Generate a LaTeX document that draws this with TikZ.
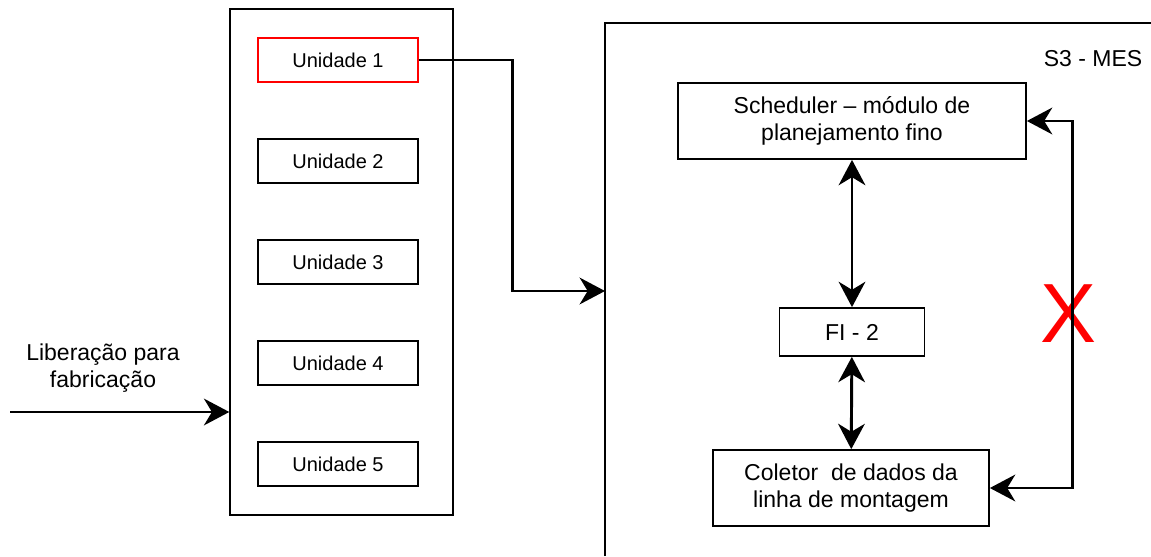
\documentclass[tikz,border=0pt]{standalone}
\usepackage{fontspec}
\setmainfont{Liberation Sans}
\usetikzlibrary{arrows.meta,positioning}

\begin{document}
\begin{tikzpicture}[
  x=0.75pt, y=-0.75pt,
  frame/.style={rectangle, draw, line width=1.3pt, inner sep=0pt},
  unit/.style={rectangle, draw, line width=0.8pt, minimum width=120pt, minimum height=33pt, inner sep=0pt, font=\fontsize{15}{18}\selectfont},
  block/.style={rectangle, draw, line width=1.3pt, align=center, inner sep=0pt, font=\fontsize{17.25}{20.25}\selectfont},
  tip/.tip={Stealth[length=19pt, width=20pt, inset=6pt]},
  rel/.style={-tip, line width=2.2pt},
  both/.style={tip-tip, line width=2.2pt}
]
\useasboundingbox (0,0) rectangle (1151,556);

% left column with the units
\node[frame, minimum width=167pt, minimum height=379.5pt] (plant) at (341.5,262) {};
\node[unit, draw=red] (u1) at (338,60) {Unidade 1};
\node[unit] (u2) at (338,161) {Unidade 2};
\node[unit] (u3) at (338,262) {Unidade 3};
\node[unit] (u4) at (338,363) {Unidade 4};
\node[unit] (u5) at (338,464) {Unidade 5};

\node[align=center, font=\fontsize{17.25}{20.25}\selectfont] (release) at (103,368) {Liberação para\\fabricação};
\coordinate (start) at (10,412);

% MES system
\draw[line width=1.3pt] (605,556) |- (1151,23);
\coordinate (mes) at (605,291);
\node[font=\fontsize{17.25}{20.25}\selectfont] (mestitle) at (1093,59) {S3 - MES};
\node[block, minimum width=261pt, minimum height=57pt] (sched) at (852,121) {Scheduler -- módulo de\\planejamento fino};
\node[block, minimum width=108.75pt, minimum height=36pt] (fi) at (852,332) {FI - 2};
\node[block, minimum width=207pt, minimum height=57pt] (col) at (851,488) {Coletor \ de dados da\\linha de montagem};
\node[text=red, inner sep=0pt, font=\fontsize{63}{63}\selectfont] (cross) at (1068.5,313.5) {X};

\draw[rel] (start) -- (start -| plant.west);
\draw[rel] (u1.east) -- ++(94,0) |- (mes);
\draw[both] (sched) -- (fi);
\draw[both] (fi) -- (col);
\draw[both] (sched.east) -- ++(46,0) |- (col.east);
\end{tikzpicture}
\end{document}
